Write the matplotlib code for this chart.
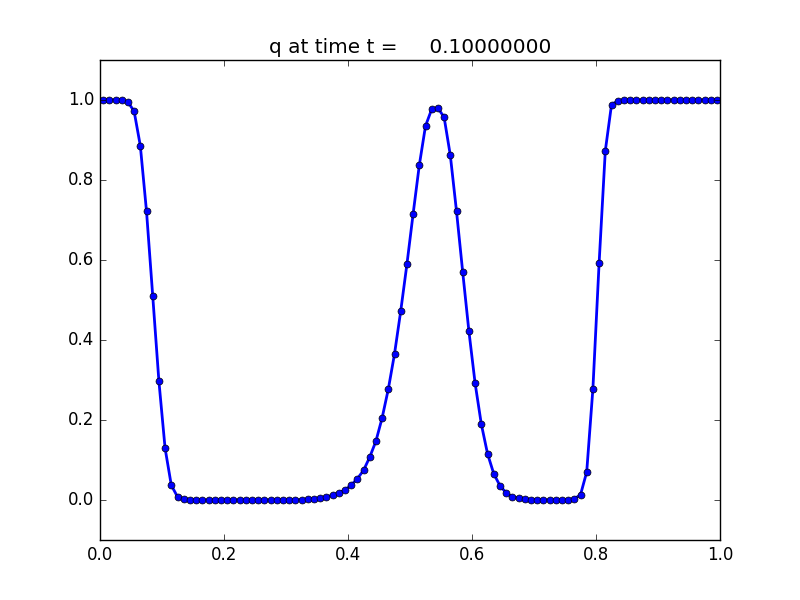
import numpy as np
import matplotlib
matplotlib.use('Agg')
import matplotlib.pyplot as plt
plt.style.use('classic')
plt.rcParams['savefig.facecolor'] = 'white'
plt.rcParams['figure.facecolor'] = 'white'

# cell centres, 100 cells on [0,1]
x = [0.005, 0.015, 0.025, 0.035, 0.045, 0.055, 0.065, 0.075, 0.085, 0.095,
     0.105, 0.115, 0.125, 0.135, 0.145, 0.155, 0.165, 0.175, 0.185, 0.195,
     0.205, 0.215, 0.225, 0.235, 0.245, 0.255, 0.265, 0.275, 0.285, 0.295,
     0.305, 0.315, 0.325, 0.335, 0.345, 0.355, 0.365, 0.375, 0.385, 0.395,
     0.405, 0.415, 0.425, 0.435, 0.445, 0.455, 0.465, 0.475, 0.485, 0.495,
     0.505, 0.515, 0.525, 0.535, 0.545, 0.555, 0.565, 0.575, 0.585, 0.595,
     0.605, 0.615, 0.625, 0.635, 0.645, 0.655, 0.665, 0.675, 0.685, 0.695,
     0.705, 0.715, 0.725, 0.735, 0.745, 0.755, 0.765, 0.775, 0.785, 0.795,
     0.805, 0.815, 0.825, 0.835, 0.845, 0.855, 0.865, 0.875, 0.885, 0.895,
     0.905, 0.915, 0.925, 0.935, 0.945, 0.955, 0.965, 0.975, 0.985, 0.995]

q = [1.0, 1.0, 1.0, 1.0, 0.995, 0.972, 0.886, 0.722, 0.511, 0.297,
     0.129, 0.037, 0.008, 0.003, 0.001, 0.0, 0.0, 0.0, 0.0, 0.0,
     0.0, 0.0, 0.0, 0.0, 0.0, 0.0, 0.0, 0.0, 0.0, 0.0,
     0.0, 0.0, 0.001, 0.002, 0.003, 0.005, 0.008, 0.012, 0.018, 0.025,
     0.037, 0.053, 0.074, 0.107, 0.147, 0.205, 0.277, 0.365, 0.472, 0.589,
     0.715, 0.837, 0.935, 0.977, 0.980, 0.957, 0.862, 0.722, 0.570, 0.422,
     0.292, 0.190, 0.116, 0.066, 0.036, 0.018, 0.008, 0.005, 0.003, 0.001,
     0.0, 0.0, 0.0, 0.0, 0.0, 0.0, 0.003, 0.013, 0.070, 0.278,
     0.592, 0.873, 0.988, 0.998, 1.0, 1.0, 1.0, 1.0, 1.0, 1.0,
     1.0, 1.0, 1.0, 1.0, 1.0, 1.0, 1.0, 1.0, 1.0, 1.0]

t = 0.1

fig = plt.figure(figsize=(8, 6), dpi=100)
ax = fig.add_subplot(111)
ax.plot(x, q, 'b-', linewidth=2)
ax.plot(x, q, 'bo', markersize=5)
ax.set_xlim(0, 1)
ax.set_ylim(-0.1, 1.1)
ax.set_title('q at time t = %14.8f' % t)
fig.savefig('out.png', dpi=100)
